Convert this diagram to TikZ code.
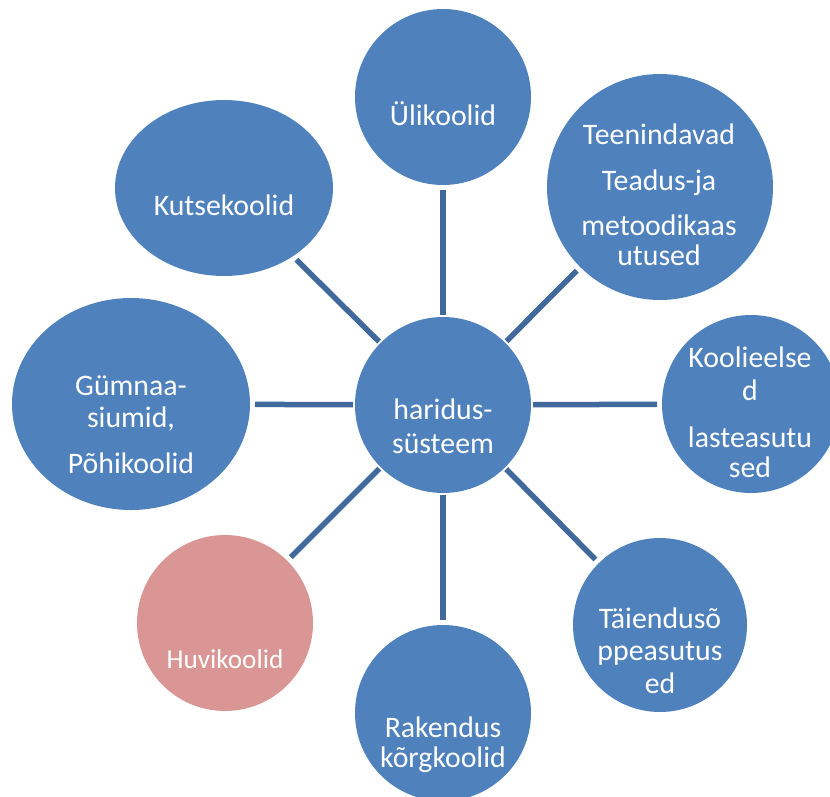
\documentclass[tikz,border=0pt]{standalone}
\usepackage{fontspec}
\setmainfont{Carlito}
\usetikzlibrary{shapes.geometric}
\definecolor{nodeblue}{HTML}{4F81BD}
\definecolor{nodepink}{HTML}{D99694}
\definecolor{linkblue}{HTML}{41699B}
\tikzset{
  ball/.style={circle, fill=nodeblue, draw=none, inner sep=0pt, outer sep=0pt, minimum size=#1},
  oval/.style={ellipse, fill=nodeblue, draw=none, inner sep=0pt, outer sep=0pt},
  lbl/.style={anchor=base, inner sep=0pt, text=white, font=\fontsize{29.8}{35}\selectfont},
  conn/.style={draw=linkblue, line width=5.5pt, shorten <=2pt, shorten >=5pt}
}
\begin{document}
\begin{tikzpicture}[x=1pt,y=-1pt]
\useasboundingbox (0,0) rectangle (830,796);
% circles
\node[ball=176pt] (hub) at (443,405) {};
\node[ball=176pt] (uli) at (443,97) {};
\node[ball=226pt] (tee) at (660,187) {};
\node[ball=178pt] (koo) at (751,404) {};
\node[ball=174pt] (tai) at (660,625) {};
\node[ball=176pt] (rak) at (443,713) {};
\node[ball=176pt, fill=nodepink] (huv) at (225,623) {};
\node[oval, minimum width=238pt, minimum height=212pt] (gym) at (131,404) {};
\node[oval, minimum width=218pt, minimum height=176pt] (kut) at (224,188) {};
% connectors
\draw[conn] (hub) -- (uli);
\draw[conn] (hub) -- (tee);
\draw[conn] (hub) -- (koo);
\draw[conn] (hub) -- (tai);
\draw[conn] (hub) -- (rak);
\draw[conn] (hub) -- (huv);
\draw[conn] (hub) -- (gym);
\draw[conn] (hub) -- (kut);
% labels
\node[lbl] (hub1) at (443,419) {haridus-};
\node[lbl] (hub2) at (443,453) {süsteem};
\node[lbl] (uli1) at (443,125) {Ülikoolid};
\node[lbl] (tee1) at (659,144) {Teenindavad};
\node[lbl] (tee2) at (659,190) {Teadus-ja};
\node[lbl] (tee3) at (659,235) {metoodikaas};
\node[lbl] (tee4) at (659,265) {utused};
\node[lbl] (kut1) at (224,215) {Kutsekoolid};
\node[lbl] (gym1) at (131,395) {Gümnaa-};
\node[lbl] (gym2) at (131,427) {siumid,};
\node[lbl] (gym3) at (131,473) {Põhikoolid};
\node[lbl] (koo1) at (750,367) {Koolieelse};
\node[lbl] (koo2) at (750,400) {d};
\node[lbl] (koo3) at (750,447) {lasteasutu};
\node[lbl] (koo4) at (750,477) {sed};
\node[lbl] (tai1) at (660,628) {Täiendusõ};
\node[lbl] (tai2) at (660,660) {ppeasutus};
\node[lbl] (tai3) at (660,693) {ed};
\node[lbl, font=\fontsize{27.2}{32}\selectfont] (huv1) at (225,668) {Huvikoolid};
\node[lbl] (rak1) at (443,737) {Rakendus};
\node[lbl] (rak2) at (443,767) {kõrgkoolid};
\end{tikzpicture}
\end{document}
